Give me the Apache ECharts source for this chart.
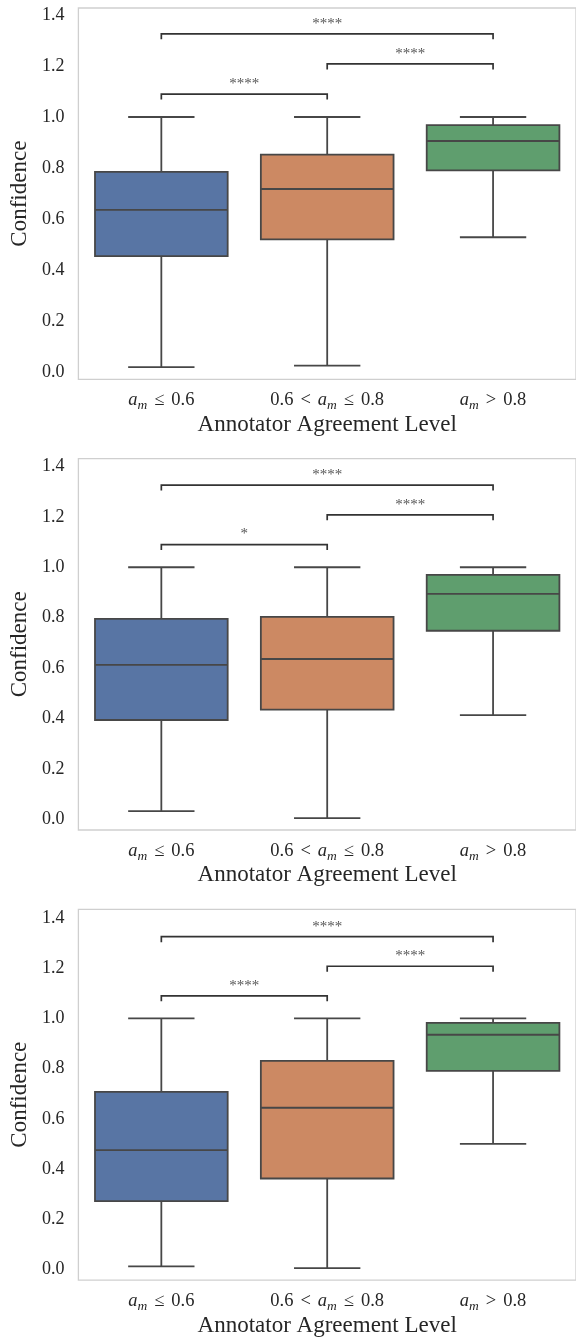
<!DOCTYPE html>
<html>
<head>
<meta charset="utf-8">
<script src="https://cdn.jsdelivr.net/npm/echarts@6/dist/echarts.min.js"></script>
<style>
html,body{margin:0;padding:0;background:#fff;}
#chart{width:576px;height:1338px;}
</style>
</head>
<body>
<div id="chart"></div>
<script>
// ---------- data ----------
const categories = ['a_m ≤ 0.6', '0.6 < a_m ≤ 0.8', 'a_m > 0.8'];
const yTickValues = [0, 0.2, 0.4, 0.6, 0.8, 1.0, 1.2, 1.4];

// panel 1
const p1Low    = [0.020, 0.026, 0.529];
const p1Q1     = [0.455, 0.521, 0.791];
const p1Median = [0.636, 0.718, 0.906];
const p1Q3     = [0.785, 0.853, 0.968];
const p1High   = [1.000, 1.000, 1.000];
const p1Stars  = ['****', '****', '****'];

// panel 2
const p2Low    = [0.032, 0.005, 0.413];
const p2Q1     = [0.394, 0.435, 0.748];
const p2Median = [0.613, 0.636, 0.894];
const p2Q3     = [0.795, 0.803, 0.970];
const p2High   = [1.000, 1.000, 1.000];
const p2Stars  = ['*', '****', '****'];

// panel 3
const p3Low    = [0.012, 0.005, 0.500];
const p3Q1     = [0.272, 0.362, 0.791];
const p3Median = [0.475, 0.644, 0.935];
const p3Q3     = [0.707, 0.831, 0.982];
const p3High   = [1.000, 1.000, 1.000];
const p3Stars  = ['****', '****', '****'];

// significance comparisons (category index pairs) and bracket heights
const bracketPairs   = [[0, 1], [1, 2], [0, 2]];
const bracketHeights = [1.090, 1.208, 1.326];

// ---------- styling ----------
const FONT = '"Liberation Serif", "DejaVu Serif", serif';
const TEXT = '#262626';
const boxColors = ['#5875a4', '#cc8963', '#5f9e6e'];
const LINE = '#474747';

const panels = [
  {low: p1Low, q1: p1Q1, med: p1Median, q3: p1Q3, high: p1High, stars: p1Stars,
   top: 8, height: 371.3, min: -0.0274, max: 1.427},
  {low: p2Low, q1: p2Q1, med: p2Median, q3: p2Q3, high: p2High, stars: p2Stars,
   top: 458.7, height: 371.3, min: -0.0425, max: 1.4306},
  {low: p3Low, q1: p3Q1, med: p3Median, q3: p3Q3, high: p3High, stars: p3Stars,
   top: 909.3, height: 371.7, min: -0.043, max: 1.435}
];

function fmtCat(v) {
  return v.split(' ').map(p => {
    if (p === 'a_m') return '{i|a}{s|m}';
    if (p === '≤' || p === '<' || p === '>') return '{o|' + p + '}';
    return '{n|' + p + '}';
  }).join('');
}

const grids = [], xAxes = [], yAxes = [], series = [];
panels.forEach((p, k) => {
  grids.push({left: 78, width: 499, top: p.top, height: p.height,
    show: true, borderColor: '#cfcfcf', borderWidth: 1.3, backgroundColor: '#fff'});
  xAxes.push({
    type: 'category', gridIndex: k, data: categories,
    axisLine: {show: false}, axisTick: {show: false}, splitLine: {show: false},
    axisLabel: {
      margin: 9, interval: 0, hideOverlap: false, formatter: fmtCat,
      rich: {
        n: {fontFamily: FONT, fontSize: 18.5, color: TEXT, lineHeight: 24},
        o: {fontFamily: FONT, fontSize: 18.5, color: TEXT, lineHeight: 24, padding: [0, 7, 0, 7]},
        i: {fontFamily: FONT, fontSize: 18.5, fontStyle: 'italic', color: TEXT, lineHeight: 24},
        s: {fontFamily: FONT, fontSize: 13.5, fontStyle: 'italic', color: TEXT, lineHeight: 12, verticalAlign: 'bottom'}
      }
    },
    name: 'Annotator Agreement Level', nameLocation: 'middle', nameGap: 33,
    nameTextStyle: {fontFamily: FONT, fontSize: 23, color: TEXT}
  });
  yAxes.push({
    type: 'value', gridIndex: k, min: p.min, max: p.max,
    axisLine: {show: false}, axisTick: {show: false}, splitLine: {show: false},
    axisLabel: {
      customValues: yTickValues, margin: 14,
      formatter: v => Number(v).toFixed(1),
      fontFamily: FONT, fontSize: 18, color: TEXT
    },
    name: 'Confidence', nameLocation: 'middle', nameGap: 40, nameRotate: 90,
    nameTextStyle: {fontFamily: FONT, fontSize: 23, color: TEXT}
  });

  const boxData = categories.map((c, i) => [i, p.low[i], p.q1[i], p.med[i], p.q3[i], p.high[i]]);
  series.push({
    type: 'custom', xAxisIndex: k, yAxisIndex: k, data: boxData,
    encode: {x: 0, y: [1, 2, 3, 4, 5]},
    renderItem: function (params, api) {
      const i = api.value(0);
      const band = api.size([1, 0])[0];
      const bw = band * 0.8;
      const cx = api.coord([i, 0])[0];
      const yLow = api.coord([i, api.value(1)])[1];
      const yQ1 = api.coord([i, api.value(2)])[1];
      const yMed = api.coord([i, api.value(3)])[1];
      const yQ3 = api.coord([i, api.value(4)])[1];
      const yHigh = api.coord([i, api.value(5)])[1];
      const ls = {stroke: LINE, lineWidth: 1.8};
      return {
        type: 'group',
        children: [
          {type: 'line', shape: {x1: cx, y1: yQ1, x2: cx, y2: yLow}, style: ls},
          {type: 'line', shape: {x1: cx, y1: yQ3, x2: cx, y2: yHigh}, style: ls},
          {type: 'line', shape: {x1: cx - bw / 4, y1: yLow, x2: cx + bw / 4, y2: yLow}, style: ls},
          {type: 'line', shape: {x1: cx - bw / 4, y1: yHigh, x2: cx + bw / 4, y2: yHigh}, style: ls},
          {type: 'rect', shape: {x: cx - bw / 2, y: yQ3, width: bw, height: yQ1 - yQ3},
            style: {fill: boxColors[i], stroke: LINE, lineWidth: 1.8}},
          {type: 'line', shape: {x1: cx - bw / 2, y1: yMed, x2: cx + bw / 2, y2: yMed}, style: ls}
        ]
      };
    }
  });

  const brData = bracketPairs.map((pr, j) => [pr[0], pr[1], bracketHeights[j], p.stars[j]]);
  series.push({
    type: 'custom', xAxisIndex: k, yAxisIndex: k, data: brData,
    encode: {x: [0, 1], y: 2},
    renderItem: function (params, api) {
      const a = api.coord([api.value(0), api.value(2)]);
      const b = api.coord([api.value(1), api.value(2)]);
      const leg = 5.5;
      const label = brData[params.dataIndex][3];
      return {
        type: 'group',
        children: [
          {type: 'polyline', shape: {points: [[a[0], a[1] + leg], [a[0], a[1]], [b[0], b[1]], [b[0], b[1] + leg]]},
            style: {stroke: '#333', lineWidth: 1.7, fill: null}},
          {type: 'text', style: {text: label, x: (a[0] + b[0]) / 2, y: a[1] - 10,
            align: 'center', verticalAlign: 'middle',
            fontFamily: FONT, fontSize: 15, fill: '#555'}}
        ]
      };
    }
  });
});

const chart = echarts.init(document.getElementById('chart'), null, {renderer: 'canvas'});
chart.setOption({
  animation: false,
  backgroundColor: '#fff',
  grid: grids, xAxis: xAxes, yAxis: yAxes, series: series
});
</script>
</body>
</html>
